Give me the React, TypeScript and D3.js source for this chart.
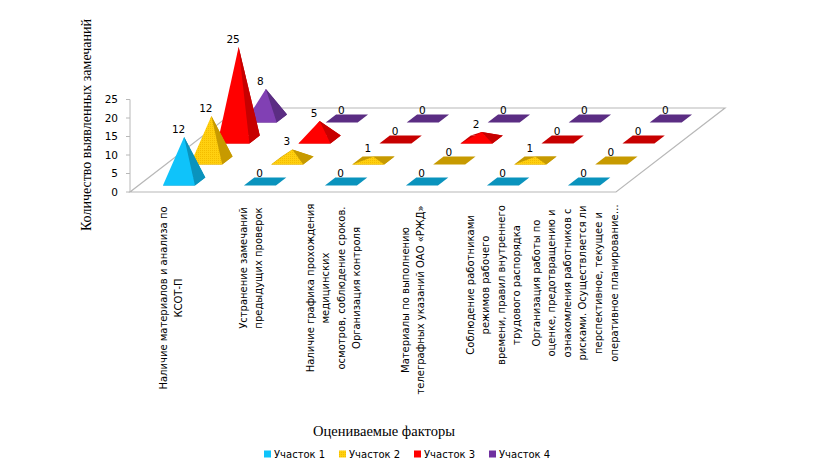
import React from 'react';
import * as d3 from 'd3';

const categories = ['c1', 'c2', 'c3', 'c4', 'c5', 'c6'];
const seriesNames = ['Участок 1', 'Участок 2', 'Участок 3', 'Участок 4'];

const uchastok1 = [12, 0, 0, 0, 0, 0];
const uchastok2 = [12, 3, 1, 0, 1, 0];
const uchastok3 = [25, 5, 0, 2, 0, 0];
const uchastok4 = [8, 0, 0, 0, 0, 0];
const seriesValues = [uchastok1, uchastok2, uchastok3, uchastok4];

const frontColors = ['#0fc3fa', 'url(#goldDots)', '#ff0000', '#8140b4'];
const sideColors = ['#0a93bd', '#c79a00', '#c70000', '#5b2d83'];
const swatchColors = ['#0fc3fa', 'url(#goldDots)', '#ff0000', '#7030a0'];

const categoryLabels = [
  { lines: ['Наличие материалов и анализа по', 'КСОТ-П'], x: 163, mid: 298 },
  { lines: ['Устранение замечаний', 'предыдущих проверок'], x: 243, mid: 268 },
  {
    lines: ['Наличие графика прохождения', 'медицинских', 'осмотров, соблюдение сроков.', 'Организация контроля'],
    x: 310,
    mid: 288
  },
  { lines: ['Материалы по выполнению', 'телеграфных указаний ОАО «РЖД»'], x: 405, mid: 300 },
  {
    lines: ['Соблюдение работниками', 'режимов рабочего', 'времени, правил внутреннего', 'трудового распорядка'],
    x: 470,
    mid: 285
  },
  {
    lines: [
      'Организация работы по',
      'оценке, предотвращению и',
      'ознакомления работников с',
      'рисками. Осуществляется ли',
      'перспективное, текущее и',
      'оперативное планирование…'
    ],
    x: 536,
    mid: 283
  }
];

// floor of the fake 3D plot
const originX = 130;
const originY = 192;
const floorW = 486;
const floorD = 84;
const skew = 109 / 84;

const catScale = d3.scaleBand<string>().domain(categories).range([0, floorW]).paddingInner(0.605).paddingOuter(0.3025);
const depthScale = d3.scaleBand<string>().domain(seriesNames).range([0, floorD]).paddingInner(0.62).paddingOuter(0.31);
const heightScale = d3.scaleLinear().domain([0, 25]).range([0, 92.5]);

const project = (u: number, v: number, h = 0): [number, number] => [originX + u + v * skew, originY - v - h];
const toPath = (pts: [number, number][]) => d3.line()(pts) + 'Z';

const Pyramid = ({ cat, ser, value }: { cat: string; ser: number; value: number }) => {
  const u0 = catScale(cat) as number;
  const u1 = u0 + catScale.bandwidth();
  const v0 = depthScale(seriesNames[ser]) as number;
  const v1 = v0 + depthScale.bandwidth();
  const fl = project(u0, v0);
  const fr = project(u1, v0);
  const br = project(u1, v1);
  const bl = project(u0, v1);
  const apex = project((u0 + u1) / 2, (v0 + v1) / 2, heightScale(value));
  return (
    <g>
      <path d={toPath([fl, fr, br, bl])} fill={sideColors[ser]} />
      {value > 0 && (
        <>
          <path d={toPath([bl, br, apex])} fill={sideColors[ser]} />
          <path d={toPath([fr, br, apex])} fill={sideColors[ser]} />
          <path d={toPath([fl, fr, apex])} fill={frontColors[ser]} />
        </>
      )}
    </g>
  );
};

export default function App() {
  const sans = '"DejaVu Sans", sans-serif';
  const serif = '"Liberation Serif", serif';
  const corners: [number, number][] = [project(0, 0), project(floorW, 0), project(floorW, floorD), project(0, floorD)];
  const axisTicks = heightScale.ticks(5);
  const lineGap = 15.6;

  return (
    <svg
      width={826}
      height={466}
      style={{ position: 'absolute', left: 0, top: 0, background: '#fff' }}
      fontFamily={sans}
    >
      <defs>
        <pattern id="goldDots" width={2} height={2} patternUnits="userSpaceOnUse">
          <rect width={2} height={2} fill="#ffd010" />
          <rect width={1} height={1} fill="#f4bc00" />
        </pattern>
      </defs>

      {/* floor outline */}
      <path d={toPath(corners)} fill="#fff" stroke="#b8b8b8" strokeWidth={1.2} />

      {/* value axis */}
      <line x1={originX} x2={originX} y1={originY} y2={originY - heightScale(25)} stroke="#b8b8b8" />
      {axisTicks.map(t => (
        <g key={t} transform={`translate(${originX},${originY - heightScale(t)})`}>
          <line x1={-4} x2={0} stroke="#b8b8b8" />
          <text x={-12} dy="0.35em" textAnchor="end" fontSize={10.5} fill="#000">
            {t}
          </text>
        </g>
      ))}

      {/* back rows first so the front ones overlap them */}
      {d3.range(seriesNames.length - 1, -1, -1).map(ser => (
        <g key={ser}>
          {categories.map((cat, i) => (
            <Pyramid key={cat} cat={cat} ser={ser} value={seriesValues[ser][i]} />
          ))}
        </g>
      ))}

      {/* data labels */}
      {seriesNames.map((name, ser) =>
        categories.map((cat, i) => {
          const value = seriesValues[ser][i];
          const u = (catScale(cat) as number) + catScale.bandwidth() / 2;
          const v = (depthScale(name) as number) + depthScale.bandwidth() / 2;
          const [x, y] = project(u, v, heightScale(value));
          return (
            <text key={name + cat} x={x - 5.5} y={y - 8} dy="0.35em" textAnchor="middle" fontSize={10.5} fill="#000">
              {value}
            </text>
          );
        })
      )}

      {/* category labels */}
      {categoryLabels.map((label, i) => (
        <g key={i}>
          {label.lines.map((line, j) => (
            <text
              key={j}
              transform={`translate(${label.x + j * lineGap},${label.mid}) rotate(-90)`}
              dy="0.35em"
              textAnchor="middle"
              fontSize={10}
              fill="#000"
            >
              {line}
            </text>
          ))}
        </g>
      ))}

      <text
        transform="translate(86,125) rotate(-90)"
        dy="0.35em"
        textAnchor="middle"
        fontFamily={serif}
        fontSize={14}
        fill="#000"
      >
        Количество выявленных замечаний
      </text>
      <text x={384} y={431} dy="0.35em" textAnchor="middle" fontFamily={serif} fontSize={14.5} fill="#000">
        Оцениваемые факторы
      </text>

      {/* legend */}
      {seriesNames.map((name, i) => (
        <g key={name} transform={`translate(${264 + i * 75},454)`}>
          <rect y={-3.5} width={7} height={7} fill={swatchColors[i]} />
          <text x={10} dy="0.35em" fontSize={10} fill="#000">
            {name}
          </text>
        </g>
      ))}
    </svg>
  );
}
